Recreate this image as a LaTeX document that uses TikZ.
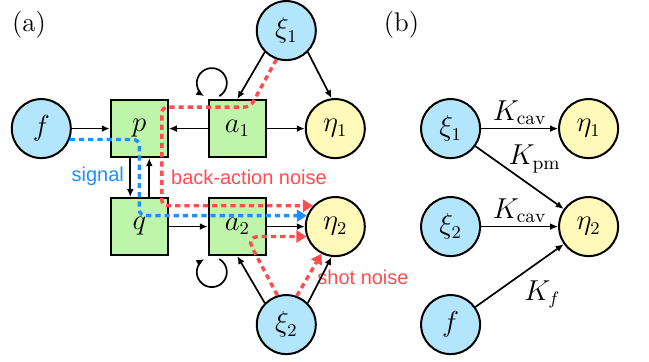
\documentclass[tikz,border=0pt]{standalone}
\usepackage{fontspec}
\usetikzlibrary{arrows.meta}
\newfontfamily\lblsans{Liberation Sans}
\definecolor{srcblue}{RGB}{179,229,252}
\definecolor{detyellow}{RGB}{255,250,185}
\definecolor{modegreen}{RGB}{190,245,170}
\definecolor{noisered}{RGB}{255,77,77}
\definecolor{signalblue}{RGB}{30,144,255}

\tikzstyle{mode} = [rectangle, minimum size=28.5pt, inner sep=0pt, draw=black, line width=1pt, fill=modegreen, font=\fontsize{13.5}{16}\selectfont]
\tikzstyle{source} = [circle, minimum size=29.5pt, inner sep=0pt, draw=black, line width=1pt, fill=srcblue, font=\fontsize{13.5}{16}\selectfont]
\tikzstyle{detect} = [source, fill=detyellow]
\tikzstyle{tag} = [font=\lblsans\fontsize{10}{12}\selectfont]
\tikzstyle{klabel} = [font=\fontsize{13.5}{16}\selectfont]
\tikzstyle{arrow} = [line width=0.85pt,->,>={Latex[length=4pt,width=3.4pt]}]
\tikzstyle{noise} = [line width=1.7pt, dash pattern=on 2.6pt off 2pt, rounded corners=3pt, -{Triangle[length=5pt,width=6pt]}, draw=noisered]
\tikzstyle{signal} = [noise, draw=signalblue]

\begin{document}
\begin{tikzpicture}[node distance=49pt]
			\useasboundingbox (0,0) rectangle (324.5pt,-181pt);
			% panel (a)
			\node (tag a) [klabel] at (14.5pt,-12.25pt) {(a)};
			\node (f) [source] at (20.65pt,-64.3pt) {$f$};
			\node (p) [mode, right of=f] {$p$};
			\node (a1) [mode, right of=p] {$a_1$};
			\node (eta1) [detect, right of=a1] {$\eta_1$};
			\node (q) [mode, below of=p] {$q$};
			\node (a2) [mode, below of=a1] {$a_2$};
			\node (eta2) [detect, below of=eta1] {$\eta_2$};
			\node (xi1) [source, above of=a1, xshift=24.5pt] {$\xi_1$};
			\node (xi2) [source, below of=a2, xshift=24.5pt] {$\xi_2$};

			\node (sig) [tag, text=signalblue] at (48.9pt,-88.35pt) {signal};
			\node (backact) [tag, text=noisered] at (124.5pt,-88.5pt) {back-action noise};
			\node (shot) [tag, text=noisered] at (181.5pt,-138.5pt) {shot noise};

			\draw [arrow] (f) -- (p);
			\draw [arrow] (a1) -- (p);
			\draw [arrow] (a1) -- (eta1);
			\draw [arrow] ([xshift=-4.5pt]p.south) -- ([xshift=-4.5pt]q.north);
			\draw [arrow] ([xshift=5pt]q.north) -- ([xshift=5pt]p.south);
			\draw [arrow] (q) -- (a2);
			\draw [arrow] (a2) -- (eta2);
			\draw [arrow] (xi1.225) -- (a1.north);
			\draw [arrow] (xi1.-45) -- (eta1.97);
			\draw [arrow] (xi2.135) -- (a2.south);
			\draw [arrow] (xi2.45) -- (eta2.263);
			\draw [arrow] ([xshift=5.75pt,yshift=1.5pt]a1.north west) arc[start angle=-60, end angle=240, radius=7.5pt];
			\draw [arrow] ([xshift=5.75pt,yshift=-1.5pt]a2.south west) arc[start angle=60, end angle=-240, radius=7.5pt];

			% noise and signal paths
			\coordinate (ba1) at ([xshift=6.5pt,yshift=-4pt]a1.north);
			\coordinate (ba2) at ([xshift=-3.5pt,yshift=-4pt]p.north east);
			\coordinate (sh) at ([xshift=4.5pt]a2.center);
			\draw [signal] (f.-21) -- (f.-21 -| p.center) -- (p.center |- eta2.159) -- (eta2.159);
			\draw [noise] (xi1.251) -- (ba1) -- (ba2) -- (ba2 |- eta2.137) -- (eta2.137);
			\draw [noise, rounded corners=6pt] (xi2.107) -- (sh |- eta2.199) -- (eta2.199);
			\draw [noise] (xi2.70) -- (eta2.243);

			% panel (b)
			\node (tag b) [klabel] at (200.75pt,-12.25pt) {(b)};
			\node (b xi1) [source, right of=eta1, xshift=8.65pt] {$\xi_1$};
			\node (b eta1) [detect, right of=b xi1, xshift=20pt] {$\eta_1$};
			\node (b xi2) [source, below of=b xi1] {$\xi_2$};
			\node (b eta2) [detect, below of=b eta1] {$\eta_2$};
			\node (b f) [source, below of=b xi2] {$f$};

			\draw [arrow] (b xi1) -- node (k1) [klabel, above, inner sep=1.5pt] {$K_\mathrm{cav}$} (b eta1);
			\draw [arrow] (b xi1) -- node (k2) [klabel, above, xshift=7.5pt, inner sep=2pt] {$K_\mathrm{pm}$} (b eta2);
			\draw [arrow] (b xi2) -- node (k3) [klabel, above, inner sep=1.5pt] {$K_\mathrm{cav}$} (b eta2);
			\draw [arrow] (b f) -- node (k4) [klabel, below right, inner sep=2pt] {$K_f$} (b eta2);
		\end{tikzpicture}
\end{document}
